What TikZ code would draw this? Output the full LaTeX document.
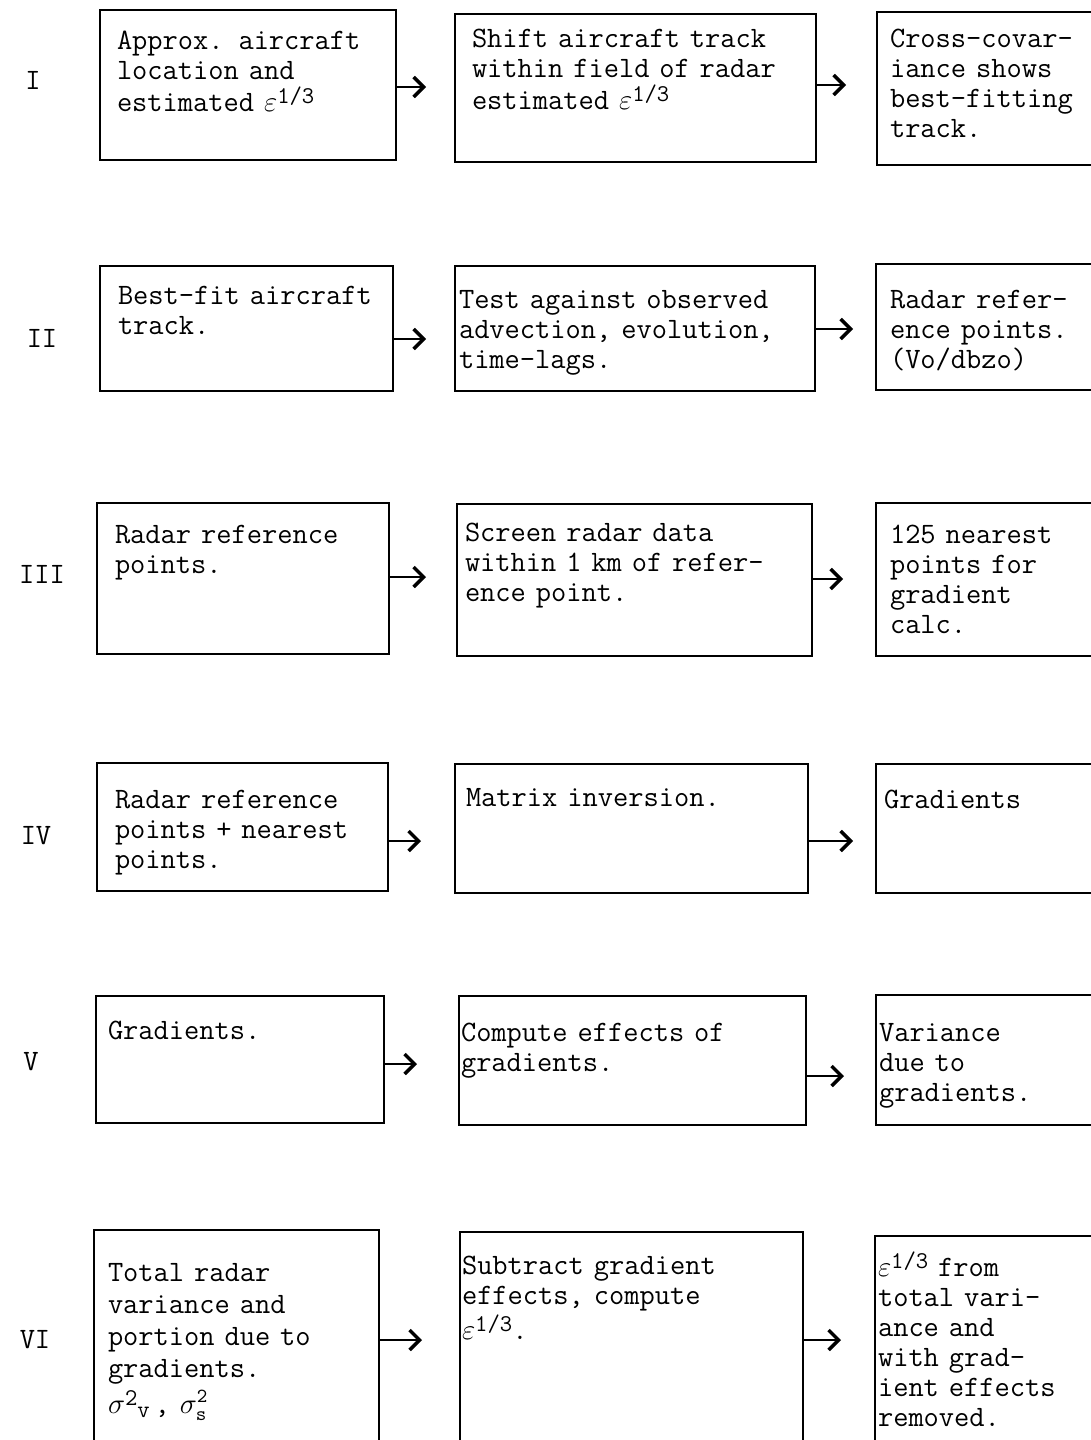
\documentclass[tikz,border=0pt]{standalone}
\usetikzlibrary{arrows.meta}
\newcommand{\supsz}{\fontsize{12}{12}\selectfont\ttfamily}
\newcommand{\epsup}{$\varepsilon$\raisebox{0.27em}{\supsz 1/3}}
\newcommand{\mybox}[5]{\node[boxst, anchor=north west, minimum width={(#4-#2)*0.5pt}, minimum height={(#5-#3)*0.5pt}] (#1) at (#2,#3) {};}
\tikzset{
  boxst/.style={draw, line width=0.9pt, rectangle, inner sep=0pt, outer sep=0pt},
  txt/.style={inner sep=0pt, outer sep=0pt, align=left, text width=190pt,
    font=\fontsize{14.8}{15}\selectfont\ttfamily},
  rom/.style={inner sep=0pt, font=\fontsize{14.8}{15}\selectfont\ttfamily},
  arr/.style={line width=1pt, -{Straight Barb[length=5pt,width=10pt,line width=1.7pt]}}
}
\begin{document}
\begin{tikzpicture}[x=0.5pt,y=-0.5pt]
\useasboundingbox (0,0) rectangle (1091,1440);
\clip (0,0) rectangle (1091,1440);
% Row labels
\node[rom] (r1) at (33,80) {I};
\node[rom] (r2) at (42,338) {II};
\node[rom] (r3) at (42,574) {III};
\node[rom] (r4) at (36,836) {IV};
\node[rom] (r5) at (31,1062) {V};
\node[rom] (r6) at (35,1340) {VI};
% Row I
\mybox{b11}{100}{10}{396}{160}
\mybox{b12}{455}{14}{816}{162}
\mybox{b13}{877}{12}{1100}{165}
\node[txt, anchor=base west] (t11) at (117,49) {Approx. aircraft\\location and\\[1pt]estimated \epsup};
\node[txt, anchor=base west] (t12) at (472,47) {Shift aircraft track\\within field of radar\\[1pt]estimated \epsup};
\node[txt, anchor=base west] (t13) at (890,47) {Cross-covar-\\iance shows\\best-fitting\\track.};
\coordinate (e11) at (426,87);
\coordinate (e12) at (846,85);
\draw[arr] (b11.east |- e11) -- (e11);
\draw[arr] (b12.east |- e12) -- (e12);
% Row II
\mybox{b21}{100}{266}{393}{391}
\mybox{b22}{455}{266}{815}{391}
\mybox{b23}{876}{264}{1100}{390}
\node[txt, anchor=base west] (t21) at (118,304) {Best-fit aircraft\\track.};
\node[txt, anchor=base west] (t22) at (459,308) {Test against observed\\advection, evolution,\\time-lags.};
\node[txt, anchor=base west] (t23) at (890,308) {Radar refer-\\ence points.\\(Vo/dbzo)};
\coordinate (e21) at (426,339);
\coordinate (e22) at (853,329);
\draw[arr] (b21.east |- e21) -- (e21);
\draw[arr] (b22.east |- e22) -- (e22);
% Row III
\mybox{b31}{97}{503}{389}{654}
\mybox{b32}{457}{504}{812}{656}
\mybox{b33}{876}{503}{1100}{656}
\node[txt, anchor=base west] (t31) at (115,543) {Radar reference\\points.};
\node[txt, anchor=base west] (t32) at (465,541) {Screen radar data\\within 1 km of refer-\\ence point.};
\node[txt, anchor=base west] (t33) at (890,543) {125 nearest\\points for\\gradient\\calc.};
\coordinate (e31) at (426,577);
\coordinate (e32) at (843,579);
\draw[arr] (b31.east |- e31) -- (e31);
\draw[arr] (b32.east |- e32) -- (e32);
% Row IV
\mybox{b41}{97}{763}{388}{891}
\mybox{b42}{455}{764}{808}{893}
\mybox{b43}{876}{764}{1100}{893}
\node[txt, anchor=base west] (t41) at (115,808) {Radar reference\\points + nearest\\points.};
\node[txt, anchor=base west] (t42) at (466,806) {Matrix inversion.};
\node[txt, anchor=base west] (t43) at (884,808) {Gradients};
\coordinate (e41) at (421,841);
\coordinate (e42) at (853,841);
\draw[arr] (b41.east |- e41) -- (e41);
\draw[arr] (b42.east |- e42) -- (e42);
% Row V
\mybox{b51}{96}{996}{384}{1123}
\mybox{b52}{459}{996}{806}{1125}
\mybox{b53}{876}{995}{1100}{1125}
\node[txt, anchor=base west] (t51) at (108,1039) {Gradients.};
\node[txt, anchor=base west] (t52) at (461,1041) {Compute effects of\\gradients.};
\node[txt, anchor=base west] (t53) at (879,1041) {Variance\\due to\\gradients.};
\coordinate (e51) at (417,1064);
\coordinate (e52) at (844,1076);
\draw[arr] (b51.east |- e51) -- (e51);
\draw[arr] (b52.east |- e52) -- (e52);
% Row VI
\mybox{b61}{94}{1230}{379}{1460}
\mybox{b62}{460}{1232}{803}{1460}
\mybox{b63}{875}{1236}{1100}{1460}
\node[txt, anchor=base west, font=\fontsize{14.8}{16}\selectfont\ttfamily] (t61) at (108,1281) {Total radar\\variance and\\portion due to\\gradients.\\[2pt]$\sigma$\raisebox{0.25em}{\supsz 2}\raisebox{-0.15em}{\supsz v}\,, $\sigma^{\mathtt{2}}_{\mathtt{s}}$};
\node[txt, anchor=base west] (t62) at (462,1274) {Subtract gradient\\effects, compute\\[1pt]\epsup.};
\node[txt, anchor=base west] (t63) at (878,1276) {\epsup{} from\\total vari-\\ance and\\with grad-\\ient effects\\removed.};
\coordinate (e61) at (422,1340);
\coordinate (e62) at (841,1340);
\draw[arr] (b61.east |- e61) -- (e61);
\draw[arr] (b62.east |- e62) -- (e62);
\end{tikzpicture}
\end{document}
